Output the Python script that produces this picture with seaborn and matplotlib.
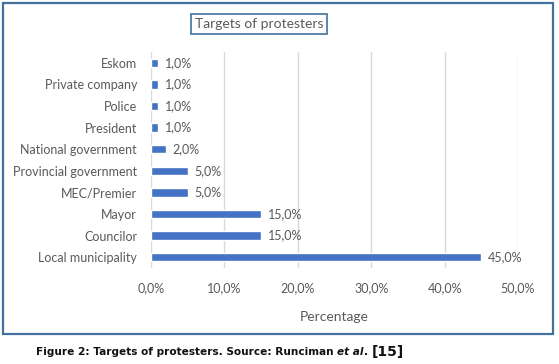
import matplotlib
matplotlib.use("Agg")
import matplotlib.pyplot as plt
import seaborn as sns
import pandas as pd
from matplotlib.patches import Rectangle

categories = ["Eskom", "Private company", "Police", "President", "National government",
              "Provincial government", "MEC/Premier", "Mayor", "Councilor", "Local municipality"]
values = [1, 1, 1, 1, 2, 5, 5, 15, 15, 45]
xticks = [0, 10, 20, 30, 40, 50]
xtick_labels = ["0,0%", "10,0%", "20,0%", "30,0%", "40,0%", "50,0%"]

sns.set_theme(style="white")
plt.rcParams['font.family'] = ['Lato', 'DejaVu Sans']

df = pd.DataFrame({"Target": categories, "Percentage": values})

W, H = 559, 364
fig = plt.figure(figsize=(W / 100, H / 100), dpi=100)
# plot area: x 151..518 px, y 52..268 px
ax = fig.add_axes([151 / W, 1 - 268 / H, 367 / W, 216 / H])

sns.barplot(data=df, y="Target", x="Percentage", orient="h", color="#4472C4",
            saturation=1, width=0.38, ax=ax)

text_col = "#595959"
ax.set_xlim(0, 50)
ax.set_xticks(xticks)
ax.set_xticklabels(xtick_labels, color=text_col, fontsize=9)
ax.tick_params(axis="y", labelsize=9, colors=text_col, length=0, pad=10)
ax.tick_params(axis="x", length=0, pad=10)
ax.grid(axis="x", color="#d9d9d9", linewidth=1)
ax.set_axisbelow(True)
for s in ax.spines.values():
    s.set_visible(False)
ax.set_ylabel("")
ax.set_xlabel("Percentage", color=text_col, fontsize=10, labelpad=12)

for i, v in enumerate(values):
    ax.text(v + 0.9, i, f"{v:.1f}".replace(".", ",") + "%", va="center", ha="left",
            color=text_col, fontsize=9)

# outer border
fig.patches.append(Rectangle((3 / W, 1 - 334 / H), 550 / W, 331 / H, transform=fig.transFigure,
                             fill=False, edgecolor="#41719C", linewidth=1.6))

fig.text(259 / W, 1 - 24 / H, "Targets of protesters", ha="center", va="center",
         fontsize=10, color=text_col,
         bbox=dict(boxstyle="square,pad=0.3", facecolor="white", edgecolor="#41719C", linewidth=1.2))

# caption
y_cap = 1 - 352 / H
fs = 7.6
t1 = fig.text(36 / W, y_cap, "Figure 2: Targets of protesters. Source: Runciman ", ha="left", va="center",
              fontsize=fs, fontweight="bold", family="DejaVu Sans", color="#111111")
fig.canvas.draw()
r = fig.canvas.get_renderer()
bb = t1.get_window_extent(r)
t2 = fig.text(bb.x1 / fig.bbox.width, y_cap, "et al", ha="left", va="center", fontsize=fs,
              fontweight="bold", style="italic", family="DejaVu Sans", color="#111111")
bb = t2.get_window_extent(r)
t3 = fig.text(bb.x1 / fig.bbox.width, y_cap, ". ", ha="left", va="center", fontsize=fs,
              fontweight="bold", family="DejaVu Sans", color="#111111")
bb = t3.get_window_extent(r)
fig.text(bb.x1 / fig.bbox.width, y_cap, "[15]", ha="left", va="center", fontsize=10,
         fontweight="bold", family="DejaVu Sans", color="#111111")

fig.savefig("out.png", dpi=100)
